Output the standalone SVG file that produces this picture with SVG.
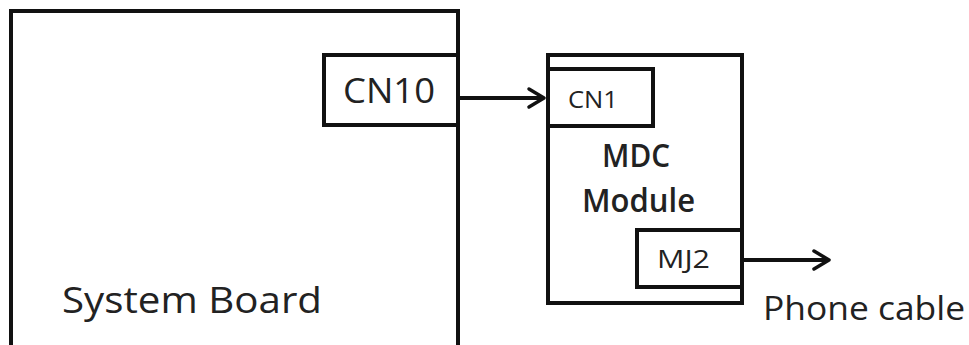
<svg xmlns="http://www.w3.org/2000/svg" width="969" height="345" viewBox="0 0 969 345">
<style>
.box{fill:#fff;stroke:#111;stroke-width:4}
.t{font-family:"Open Sans","Liberation Sans",sans-serif;fill:#222}
.b{font-weight:600}
.con{stroke:#111;stroke-width:4;fill:none}
.head{stroke:#111;stroke-width:3.5;fill:none;stroke-linecap:round;stroke-linejoin:round}
</style>
<rect width="969" height="345" fill="#fff"/>
<g id="system-board">
<path class="box" d="M11 350 V11 H458 V350"/>
<text class="t" x="62" y="313" font-size="37" textLength="260" lengthAdjust="spacingAndGlyphs">System Board</text>
</g>
<g id="cn10">
<rect class="box" x="324" y="55" width="134" height="70"/>
<text class="t" x="343" y="103" font-size="35" textLength="92" lengthAdjust="spacingAndGlyphs">CN10</text>
</g>
<g id="mdc-module">
<rect class="box" x="548" y="55" width="194" height="248"/>
<text class="t b" x="602" y="167" font-size="32" textLength="68" lengthAdjust="spacingAndGlyphs">MDC</text>
<text class="t b" x="582" y="212" font-size="32" textLength="113" lengthAdjust="spacingAndGlyphs">Module</text>
</g>
<g id="cn1">
<rect class="box" x="548" y="69" width="105" height="57"/>
<text class="t" x="568" y="108" font-size="24" textLength="50" lengthAdjust="spacingAndGlyphs">CN1</text>
</g>
<g id="mj2">
<rect class="box" x="637" y="230" width="105" height="57"/>
<text class="t" x="657" y="268" font-size="25" textLength="53" lengthAdjust="spacingAndGlyphs">MJ2</text>
</g>
<g id="phone-cable">
<text class="t" x="763" y="320" font-size="32" textLength="202" lengthAdjust="spacingAndGlyphs">Phone cable</text>
</g>
<g id="connectors">
<line class="con" x1="458" y1="98" x2="543" y2="98"/>
<path class="head" d="M529 89 L544 98 L529 107"/>
<line class="con" x1="742" y1="260" x2="828" y2="260"/>
<path class="head" d="M814 251 L829 260 L814 269"/>
</g>
</svg>
